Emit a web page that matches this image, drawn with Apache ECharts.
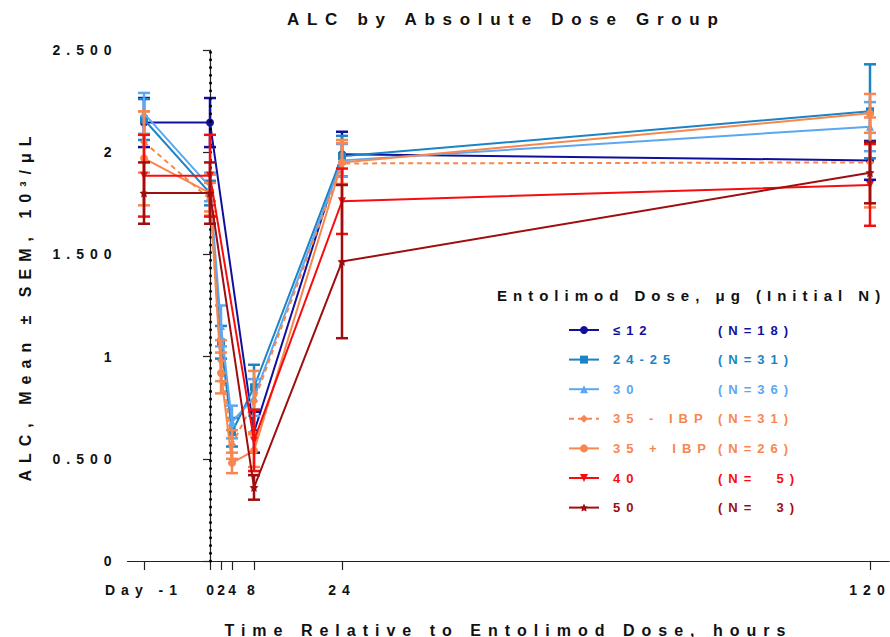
<!DOCTYPE html>
<html><head><meta charset="utf-8">
<script src="https://cdn.jsdelivr.net/npm/echarts@6.0.0/dist/echarts.min.js"></script>
<style>
html,body{margin:0;padding:0;background:#fff;}
#chart{width:890px;height:637px;}
#chart svg text{white-space:pre;}
#chart svg text[style*="17px"]{letter-spacing:7.7px;}
#chart svg text[style*="16px"]{letter-spacing:7px;}
#chart svg text[style*="15px"]{letter-spacing:6px;}
#chart svg text[style*="14px"]{letter-spacing:6px;}
#chart svg text[style*="13px"]{letter-spacing:6px;}
</style></head>
<body><div id="chart"></div>
<script>
// ---- data ----
const timeHours = [-12, 0, 2, 4, 8, 24, 120];
const xTickValues = [-12, 0, 2, 4, 8, 24, 120];
const xTickLabels = ['Day -1', '0', '2', '4', '8', '24', '120'];
const yTickValues = [0, 0.5, 1, 1.5, 2, 2.5];
const yTickLabels = ['0', '0.500', '1', '1.500', '2', '2.500'];
const groupNames = ['≤12', '24-25', '30', '35 - IBP', '35 + IBP', '40', '50'];
const groupN = ['(N=18)', '(N=31)', '(N=36)', '(N=31)', '(N=26)', '(N=  5)', '(N=  3)'];

const meanLe12   = [2.145, 2.145, null, null, 0.63, 1.99, 1.96];
const semLe12    = [0.12, 0.12, null, null, 0.10, 0.11, 0.095];
const mean24_25  = [2.16, 1.80, 1.07, 0.63, 0.85, 1.98, 2.20];
const sem24_25   = [0.10, 0.06, 0.08, 0.07, 0.11, 0.10, 0.23];
const mean30     = [2.19, 1.83, 1.15, 0.68, 0.80, 1.96, 2.125];
const sem30      = [0.10, 0.07, 0.10, 0.08, 0.09, 0.08, 0.12];
const mean35m    = [2.05, 1.77, 0.98, 0.57, 0.78, 1.945, 1.95];
const sem35m     = [0.15, 0.08, 0.10, 0.07, 0.15, 0.10, 0.22];
const mean35p    = [1.97, 1.80, 0.92, 0.48, 0.54, 1.95, 2.19];
const sem35p     = [0.23, 0.09, 0.10, 0.05, 0.08, 0.11, 0.095];
const mean40     = [1.885, 1.885, null, null, 0.59, 1.76, 1.84];
const sem40      = [0.20, 0.20, null, null, 0.15, 0.16, 0.20];
const mean50     = [1.80, 1.80, null, null, 0.36, 1.465, 1.90];
const sem50      = [0.15, 0.15, null, null, 0.06, 0.375, 0.15];

// ---- styles ----
const FONT = 'Liberation Sans';
const colors = ['#10109a', '#1a84c6', '#5ca7f2', '#f7874f', '#f7874f', '#f70d0d', '#9e0e0e'];
const symbols = ['circle', 'rect', 'triangle', 'diamond', 'circle', 'triangle', 'path://M0,-10L2.9,-4L9.5,-3.1L4.8,1.5L5.9,8.1L0,5L-5.9,8.1L-4.8,1.5L-9.5,-3.1L-2.9,-4Z'];
const symbolRot = [0, 0, 0, 0, 0, 180, 0];
const lineTypes = ['solid', 'solid', 'solid', [5, 4], 'solid', 'solid', 'solid'];
const means = [meanLe12, mean24_25, mean30, mean35m, mean35p, mean40, mean50];
const sems = [semLe12, sem24_25, sem30, sem35m, sem35p, sem40, sem50];

function pts(m) { return timeHours.map((t, i) => [t, m[i]]).filter(p => p[1] != null); }
function errs(m, s) {
  return timeHours.map((t, i) => m[i] == null ? null : [t, m[i] - s[i], m[i] + s[i]]).filter(Boolean);
}

const series = [];
groupNames.forEach((name, gi) => {
  const c = colors[gi];
  const line = {
    type: 'line', name: name, data: pts(means[gi]), connectNulls: true,
    symbol: symbols[gi], symbolSize: gi === 6 ? 9 : 8, symbolRotate: symbolRot[gi],
    lineStyle: { color: c, width: 2, type: lineTypes[gi] },
    itemStyle: { color: c }, z: 3 + gi * 2, animation: false
  };
  if (gi === 0) {
    line.markLine = {
      silent: true, symbol: ['none', 'none'], label: { show: false },
      lineStyle: { color: '#000', width: 3, type: [0.01, 7.7], cap: 'round' },
      data: [{ xAxis: 0 }]
    };
  }
  series.push(line);
  series.push({
    type: 'custom', name: name, data: errs(means[gi], sems[gi]), z: 4 + gi * 2,
    encode: { x: 0, y: [1, 2] }, animation: false,
    renderItem: function (params, api) {
      const x = api.value(0), lo = api.value(1), hi = api.value(2);
      const a = api.coord([x, lo]), b = api.coord([x, hi]);
      const w = 6;
      const st = { stroke: c, lineWidth: 2.5 };
      return { type: 'group', children: [
        { type: 'line', shape: { x1: a[0], y1: a[1], x2: b[0], y2: b[1] }, style: st },
        { type: 'line', shape: { x1: a[0] - w, y1: a[1], x2: a[0] + w, y2: a[1] }, style: st },
        { type: 'line', shape: { x1: b[0] - w, y1: b[1], x2: b[0] + w, y2: b[1] }, style: st }
      ] };
    }
  });
});

const rich = {};
groupNames.forEach((n, i) => {
  rich['a' + i] = { width: 105, padding: [0, 0, 0, 9], color: colors[i], fontSize: 13, fontWeight: 'bold', fontFamily: FONT, lineHeight: 14 };
  rich['b' + i] = { color: colors[i], fontSize: 13, fontWeight: 'bold', fontFamily: FONT, lineHeight: 14 };
});

const chart = echarts.init(document.getElementById('chart'), null, { renderer: 'svg' });
chart.setOption({
  animation: false,
  backgroundColor: '#fff',
  title: [
    { text: 'ALC by Absolute Dose Group', left: 287, top: 11, padding: 0,
      textStyle: { fontFamily: FONT, fontSize: 17, fontWeight: 'bold', color: '#111' } },
    { text: 'Entolimod Dose, μg (Initial N)', left: 497, top: 288, padding: 0,
      textStyle: { fontFamily: FONT, fontSize: 15, fontWeight: 'bold', color: '#111' } }
  ],
  legend: {
    orient: 'vertical', left: 568, top: 323, itemWidth: 30, itemHeight: 10, itemGap: 15.6,
    padding: 0, selectedMode: false,
    data: groupNames.map((n, i) => ({ name: n, textStyle: { color: colors[i] } })),
    formatter: function (name) {
      const i = groupNames.indexOf(name);
      return '{a' + i + '|' + name + '}{b' + i + '|' + groupN[i] + '}';
    },
    textStyle: { fontFamily: FONT, fontSize: 13, fontWeight: 'bold', lineHeight: 14, rich: rich }
  },
  grid: { left: 127.5, right: 0.75, top: 50, bottom: 76, containLabel: false, outerBoundsMode: 'none' },
  xAxis: {
    type: 'value', min: -15, max: 123.5,
    axisLine: { lineStyle: { color: '#222', width: 1.2 } },
    axisTick: { customValues: xTickValues, length: 9, lineStyle: { color: '#222', width: 1.2 } },
    axisLabel: {
      customValues: xTickValues, margin: 22,
      formatter: v => {
        const i = xTickValues.indexOf(v);
        if (i < 0) return '';
        const s = xTickLabels[i];
        return s.length === 1 && v < 8 ? '{s|' + s + '}' : s;
      },
      rich: { s: { fontFamily: FONT, fontSize: 13.9, fontWeight: 'bold', color: '#111' } },
      fontFamily: FONT, fontSize: 14, fontWeight: 'bold', color: '#111'
    },
    splitLine: { show: false },
    name: 'Time Relative to Entolimod Dose, hours', nameLocation: 'middle', nameGap: 61,
    nameTextStyle: { fontFamily: FONT, fontSize: 16, fontWeight: 'bold', color: '#111' }
  },
  yAxis: {
    type: 'value', min: 0, max: 2.5, interval: 0.5,
    axisLine: { show: true, lineStyle: { color: '#222', width: 1.2 } },
    axisTick: { show: true, length: 7, lineStyle: { color: '#222', width: 1.2 } },
    axisLabel: {
      margin: 10,
      formatter: v => { const i = yTickValues.findIndex(t => Math.abs(t - v) < 1e-9); return i >= 0 ? yTickLabels[i] : ''; },
      fontFamily: FONT, fontSize: 14, fontWeight: 'bold', color: '#111'
    },
    splitLine: { show: false },
    name: 'ALC, Mean ± SEM, 10³/μL', nameLocation: 'middle', nameGap: 94,
    nameTextStyle: { fontFamily: FONT, fontSize: 16, fontWeight: 'bold', color: '#111' }
  },
  series: series
});
</script>
</body></html>
